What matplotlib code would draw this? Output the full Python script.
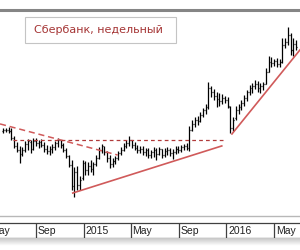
# -*- coding: utf-8 -*-
# Сбербанк, недельный - weekly OHLC bars with trend lines

import numpy as np
import pandas as pd
import matplotlib
matplotlib.use('Agg')
import matplotlib.pyplot as plt
import matplotlib.dates as mdates
from matplotlib.patches import Rectangle

# weekly bars (week start dates)
weeks = pd.date_range('2014-06-09', periods=108, freq='7D')

high = [87.4, 87.4, 87.9, 87.4, 83.2, 80.0, 77.9, 77.4, 80.5, 81.6,
        81.0, 82.1, 82.1, 81.0, 81.6, 80.0, 78.4, 77.9, 78.9, 80.5,
        82.1, 81.0, 79.5, 76.8, 73.1, 70.5, 66.8, 67.3, 62.1, 70.5,
        70.0, 69.5, 70.5, 69.5, 73.1, 77.4, 78.9, 77.9, 75.3, 73.1,
        71.6, 72.6, 75.3, 77.4, 79.5, 81.0, 83.2, 81.0, 80.0, 78.4,
        77.9, 77.9, 76.8, 76.8, 75.8, 77.4, 76.8, 77.4, 76.3, 76.8,
        77.4, 76.8, 76.3, 77.9, 77.9, 78.4, 78.9, 79.5, 88.4, 91.6,
        93.2, 93.7, 95.8, 97.9, 100.0, 111.6, 109.5, 107.9, 106.3, 105.8,
        105.3, 104.2, 103.7, 99.0, 93.2, 99.0, 100.0, 102.1, 104.8, 107.4,
        110.0, 111.1, 112.7, 112.1, 111.1, 111.6, 119.0, 125.3, 124.8, 123.7,
        124.2, 123.7, 134.8, 134.8, 140.6, 137.4, 134.8, 133.7]
low = [84.7, 85.3, 84.7, 81.0, 76.8, 74.7, 68.9, 72.6, 74.7, 75.8,
       74.2, 75.8, 77.9, 76.8, 77.4, 74.7, 73.7, 73.1, 74.2, 75.8,
       77.4, 76.8, 74.7, 71.6, 66.8, 54.7, 51.0, 54.7, 54.7, 60.0,
       62.6, 62.6, 64.2, 62.6, 67.3, 71.0, 74.2, 73.1, 69.5, 66.3,
       66.8, 68.4, 70.5, 73.1, 75.3, 76.8, 77.9, 76.8, 75.8, 74.2,
       74.2, 73.1, 72.6, 71.6, 71.6, 72.1, 70.5, 73.1, 71.6, 72.1,
       73.1, 72.6, 71.0, 73.7, 74.2, 74.7, 75.8, 75.8, 75.3, 85.8,
       87.9, 89.0, 90.5, 93.2, 94.7, 97.4, 103.7, 102.1, 98.4, 99.0,
       100.0, 100.5, 97.9, 84.7, 85.8, 91.6, 94.7, 96.9, 99.0, 101.6,
       104.8, 105.8, 107.9, 106.3, 105.8, 107.4, 110.5, 116.9, 119.5, 120.0,
       119.5, 119.5, 121.6, 129.5, 131.1, 125.8, 125.3, 128.4]
opn = [85.8, 86.3, 86.3, 85.8, 82.1, 77.9, 75.8, 73.7, 75.8, 78.9,
       80.0, 76.3, 80.5, 79.5, 80.0, 78.4, 76.3, 75.3, 76.3, 77.4,
       79.5, 81.0, 78.4, 75.8, 72.6, 67.9, 56.8, 64.2, 57.3, 61.0,
       68.9, 65.2, 67.3, 65.8, 68.4, 71.6, 75.8, 77.9, 74.7, 71.6,
       68.4, 70.0, 71.6, 74.2, 75.8, 77.9, 79.5, 81.0, 78.4, 76.8,
       75.8, 76.3, 74.7, 75.8, 73.1, 74.7, 75.8, 73.7, 76.3, 73.1,
       75.3, 75.8, 74.2, 74.7, 76.3, 75.8, 77.4, 77.9, 76.8, 86.3,
       89.5, 91.6, 91.1, 94.2, 96.9, 98.4, 108.4, 106.3, 104.2, 102.7,
       101.6, 103.2, 102.1, 98.4, 87.4, 92.6, 96.9, 98.4, 100.5, 103.2,
       106.3, 108.4, 109.5, 110.5, 108.4, 109.5, 110.5, 116.9, 122.1, 121.6,
       122.7, 121.1, 122.1, 131.1, 132.7, 136.4, 128.5, 131.6]
close = [86.3, 86.3, 85.8, 82.1, 77.9, 75.8, 73.1, 75.8, 78.9, 80.5,
         75.8, 80.5, 79.5, 80.0, 78.4, 76.3, 75.3, 76.3, 77.4, 79.5,
         81.0, 78.4, 75.8, 72.6, 67.9, 56.8, 64.2, 57.3, 60.0, 68.9,
         65.2, 67.3, 65.8, 68.4, 71.6, 75.8, 77.9, 74.7, 71.6, 68.4,
         70.0, 71.6, 74.2, 75.8, 77.9, 79.5, 81.0, 78.4, 76.8, 75.8,
         76.3, 74.7, 75.8, 73.1, 74.7, 75.8, 73.7, 76.3, 73.1, 75.3,
         75.8, 74.2, 74.7, 76.3, 75.8, 77.4, 77.9, 76.8, 86.3, 89.5,
         91.6, 91.1, 94.2, 96.9, 98.4, 108.4, 106.3, 104.2, 102.7, 101.6,
         103.2, 102.1, 99.0, 87.4, 91.6, 96.9, 98.4, 100.5, 103.2, 106.3,
         108.4, 109.5, 110.5, 108.4, 109.5, 110.5, 116.9, 122.1, 121.6, 122.7,
         121.1, 122.1, 131.1, 132.7, 136.4, 128.5, 131.6, 130.0]

# trend lines (dates, prices)
res_dates = ['2014-06-01', '2015-03-29']   # falling resistance, dashed
res_vals = [89.5, 73.1]
lvl_dates = ['2014-07-04', '2015-12-23']   # horizontal level, dashed
lvl_vals = [81.0, 81.0]
sup1_dates = ['2014-12-04', '2015-12-20']  # support 1
sup1_vals = [53.1, 77.9]
sup2_dates = ['2016-01-15', '2016-07-07']  # support 2
sup2_vals = [84.2, 128.5]

# x axis labels
tick_dates = ['2014-05-01', '2014-09-01', '2015-01-01', '2015-05-01',
              '2015-09-01', '2016-01-01', '2016-05-01']
tick_labels = ['May', 'Sep', '2015', 'May', 'Sep', '2016', 'May']

d = lambda s: mdates.date2num(pd.to_datetime(s))
x = mdates.date2num(weeks)
xmin, xmax = d('2014-06-01'), d('2016-07-07')

fig = plt.figure(figsize=(3, 2.5), dpi=100)
fig.patch.set_facecolor('white')

# main price panel
ax = fig.add_axes([0, 34/250, 1, 206/250])
ax.set_xlim(xmin, xmax)
ax.set_ylim(41, 149.5)
ax.vlines(x, low, high, color='black', lw=0.9)
ax.hlines(opn, x - 2.3, x, color='black', lw=0.9)
ax.hlines(close, x, x + 2.3, color='black', lw=0.9)

red = '#d05a5a'
ax.plot(d(res_dates), res_vals, color=red, lw=1.1, dashes=(4, 2.5))
ax.plot(d(lvl_dates), lvl_vals, color='#b03a3a', lw=0.9, dashes=(3, 2.5))
ax.plot(d(sup1_dates), sup1_vals, color=red, lw=1.2)
ax.plot(d(sup2_dates), sup2_vals, color=red, lw=1.2)

ax.set_xticks([])
ax.set_yticks([])
for s in ['left', 'right']:
    ax.spines[s].set_visible(False)
ax.spines['top'].set_color('#858585')
ax.spines['top'].set_linewidth(2.2)
ax.spines['bottom'].set_color('#b8b8b8')
ax.spines['bottom'].set_linewidth(1)

# title box
fig.add_artist(Rectangle((25/300, 1 - 43/250), 151/300, 26/250,
                         transform=fig.transFigure, facecolor='white',
                         edgecolor='#c4c4c4', lw=0.8))
fig.text(34/300, 1 - 30/250, 'Сбербанк, недельный', color='#a53535',
         fontsize=8, family='DejaVu Sans', va='center', ha='left')

# date label strip
lab = fig.add_axes([0, 12/250, 1, 15/250])
lab.set_xlim(xmin, xmax)
lab.set_ylim(0, 1)
lab.set_xticks([])
lab.set_yticks([])
for s in ['left', 'right']:
    lab.spines[s].set_visible(False)
for s in ['top', 'bottom']:
    lab.spines[s].set_color('#404040')
    lab.spines[s].set_linewidth(0.9)
for td, tl in zip(tick_dates, tick_labels):
    lab.axvline(d(td), color='#404040', lw=0.9)
    lab.text(d(td) + 5, 0.45, tl, fontsize=7.5, family='Liberation Sans',
             va='center', ha='left', color='#222222', clip_on=True)

# shadow under strip
sh = fig.add_axes([0, 4/250, 1, 8/250])
sh.imshow(np.linspace(0.78, 1, 20).reshape(-1, 1), cmap='gray', vmin=0, vmax=1,
          aspect='auto', extent=[0, 1, 0, 1])
sh.axis('off')

fig.savefig('out.png', dpi=100)
